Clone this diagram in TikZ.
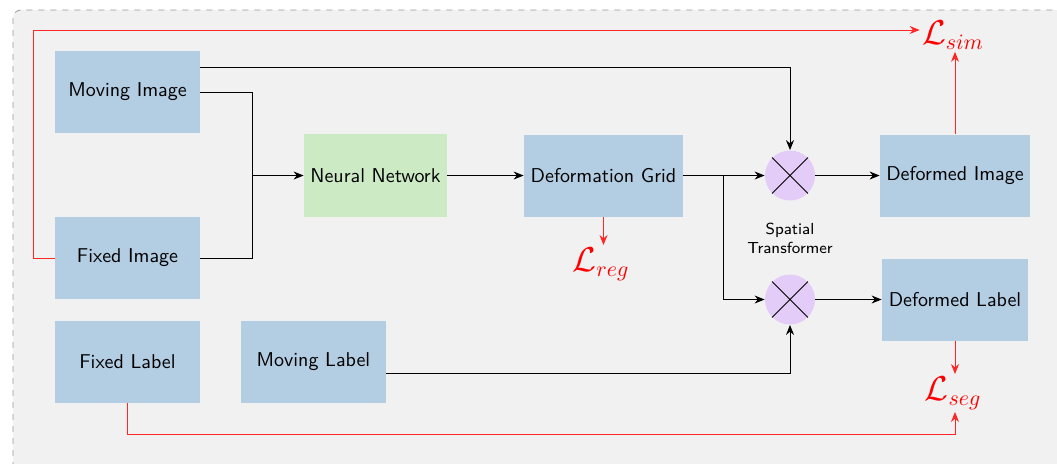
\documentclass[tikz,border=0pt]{standalone}
\usetikzlibrary{arrows.meta,calc}
\definecolor{boxblue}{HTML}{B3CDE3}
\definecolor{boxgreen}{HTML}{CCEBC5}
\definecolor{circpurple}{HTML}{E3CCF7}
\definecolor{bggray}{HTML}{F1F1F1}
\begin{document}
\begin{tikzpicture}[x=0.5pt,y=-0.5pt,
  box/.style={fill=boxblue,inner sep=0pt,minimum width=72.5pt,minimum height=41pt,font=\sffamily},
  nnbox/.style={fill=boxgreen,inner sep=0pt,minimum width=71.5pt,minimum height=41.5pt,font=\sffamily},
  mult/.style={circle,fill=circpurple,inner sep=0pt,minimum size=25pt},
  conn/.style={line width=0.5pt,-{Stealth[length=5pt,width=4pt]}},
  loss/.style={draw=red!85,line width=0.5pt,-{Stealth[length=5pt,width=4pt]}},
  losstext/.style={text=red,font=\fontsize{16}{19}\selectfont,inner sep=1pt}]
\useasboundingbox (0,0) rectangle (1057,463);
\draw[gray!80,dashed,fill=bggray,rounded corners=4pt] (13,10) rectangle (1075,485);

\node[box] (mi) at (127.5,92) {Moving Image};
\node[box] (fi) at (127.5,258) {Fixed Image};
\node[box] (fl) at (127.5,361.5) {Fixed Label};
\node[box] (ml) at (313.5,361.5) {Moving Label};
\node[nnbox] (nn) at (375.5,175.5) {Neural Network};
\node[box,minimum width=79.5pt] (dg) at (603.5,175.5) {Deformation Grid};
\node[mult] (c1) at (790,175.5) {};
\node[mult] (c2) at (790,299.5) {};
\draw[line width=0.5pt] (c1.north west) -- (c1.south east) (c1.north east) -- (c1.south west);
\draw[line width=0.5pt] (c2.north west) -- (c2.south east) (c2.north east) -- (c2.south west);
\node[font=\sffamily\footnotesize,align=center,inner sep=0pt] (st) at (790,238) {Spatial\\Transformer};
\node[box,minimum width=75pt] (di) at (955,175.5) {Deformed Image};
\node[box,minimum width=73pt] (dl) at (955,299.5) {Deformed Label};
\node[losstext] (lsim) at (953,35) {$\mathcal{L}_{sim}$};
\node[losstext] (lreg) at (601,264) {$\mathcal{L}_{reg}$};
\node[losstext] (lseg) at (953,393) {$\mathcal{L}_{seg}$};

\coordinate (j) at (252,175.5);
\coordinate (b) at (723,175.5);

\draw[conn] ($(mi.east)+(0,-25)$) -| (c1.north);
\draw[line width=0.5pt] (mi.east) -| (j);
\draw[line width=0.5pt] (fi.east) -| (j);
\draw[conn] (j) -- (nn.west);
\draw[conn] (nn.east) -- (dg.west);
\draw[conn] (dg.east) -- (c1.west);
\draw[conn] (b) |- (c2.west);
\draw[conn] (c1.east) -- (di.west);
\draw[conn] (c2.east) -- (dl.west);
\draw[conn] ($(ml.east)+(0,11.5)$) -| (c2.south);

\draw[loss] (fi.west) -- (33,258) |- ($(lsim.west)+(0,-5)$);
\draw[loss] (di.north) -- (di.north |- lsim.south);
\draw[loss] (dg.south) -- (dg.south |- lreg.north);
\draw[loss] (dl.south) -- (dl.south |- lseg.north);
\draw[loss] (fl.south) |- (800,434) -| (dl.south |- lseg.south);
\end{tikzpicture}
\end{document}
